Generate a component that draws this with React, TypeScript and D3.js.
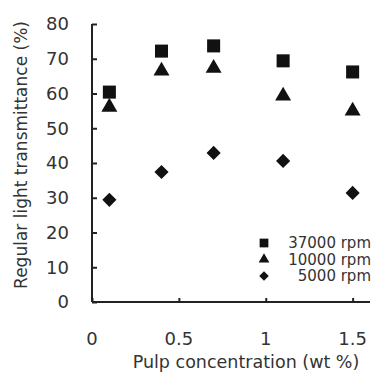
import React, { useEffect, useRef } from 'react';
import * as d3 from 'd3';

const concentrations = [0.1, 0.4, 0.7, 1.1, 1.5];
const rpm37000 = [60.4, 72.2, 73.7, 69.4, 66.2];
const rpm10000 = [56.1, 66.5, 67.3, 59.3, 55.0];
const rpm5000 = [29.4, 37.4, 42.9, 40.6, 31.4];
const seriesNames = ['37000 rpm', '10000 rpm', '5000 rpm'];
const xTicks = [0, 0.5, 1, 1.5];
const yTicks = [0, 10, 20, 30, 40, 50, 60, 70, 80];

const App: React.FC = () => {
  const svgRef = useRef<SVGSVGElement>(null);

  useEffect(() => {
    if (!svgRef.current) return;
    const svg = d3.select(svgRef.current);
    svg.selectAll('*').remove();

    const width = 371;
    const height = 373;
    const margin = { top: 24, right: 1, bottom: 71, left: 92 };
    const font = '"DejaVu Sans", Verdana, sans-serif';
    const ink = '#222';

    const x = d3.scaleLinear().domain([0, 1.6]).range([margin.left, width - margin.right]);
    const y = d3.scaleLinear().domain([0, 80]).range([height - margin.bottom, margin.top]);

    // axes
    const yAxis = svg.append('g')
      .attr('transform', `translate(${margin.left},0)`)
      .call(d3.axisRight(y).tickValues(yTicks).tickSize(5).tickFormat(() => ''));
    yAxis.select('.domain').attr('stroke', ink).attr('stroke-width', 2).attr('d', `M0,${y(80)}V${y(0)}`);
    yAxis.selectAll('.tick line').attr('stroke', ink).attr('stroke-width', 2);

    const xAxis = svg.append('g')
      .attr('transform', `translate(0,${y(0)})`)
      .call(d3.axisTop(x).tickValues(xTicks).tickSize(4).tickFormat(() => ''));
    xAxis.select('.domain').attr('stroke', ink).attr('stroke-width', 2).attr('d', `M${x(0)},0H${x(1.6)}`);
    xAxis.selectAll('.tick line').attr('stroke', ink).attr('stroke-width', 2);

    // tick labels
    svg.append('g').selectAll('text')
      .data(yTicks)
      .join('text')
      .attr('x', 69)
      .attr('y', d => y(d))
      .attr('dy', '0.36em')
      .attr('text-anchor', 'end')
      .attr('font-family', font)
      .attr('font-size', 18)
      .attr('fill', '#333')
      .text(d => d);

    svg.append('g').selectAll('text')
      .data(xTicks)
      .join('text')
      .attr('x', d => x(d))
      .attr('y', 339)
      .attr('dy', '0.36em')
      .attr('text-anchor', 'middle')
      .attr('font-family', font)
      .attr('font-size', 18)
      .attr('fill', '#333')
      .text(d => d);

    // axis titles
    svg.append('text')
      .attr('x', 246)
      .attr('y', 362)
      .attr('dy', '0.36em')
      .attr('text-anchor', 'middle')
      .attr('font-family', font)
      .attr('font-size', 17.5)
      .attr('fill', '#333')
      .text('Pulp concentration (wt %)');

    svg.append('text')
      .attr('transform', `translate(21,155) rotate(-90)`)
      .attr('dy', '0.36em')
      .attr('text-anchor', 'middle')
      .attr('font-family', font)
      .attr('font-size', 17)
      .attr('fill', '#333')
      .text('Regular light transmittance (%)');

    // rotated square for the diamond marker
    const squareDiamond = {
      draw(ctx: any, size: number) {
        const r = Math.sqrt(size / 2);
        ctx.moveTo(0, -r);
        ctx.lineTo(r, 0);
        ctx.lineTo(0, r);
        ctx.lineTo(-r, 0);
        ctx.closePath();
      },
    };
    const symbols: any[] = [d3.symbolSquare, d3.symbolTriangle, squareDiamond];
    const sizes = [170, 110, 100];
    const allSeries = [rpm37000, rpm10000, rpm5000];

    allSeries.forEach((vals, si) => {
      const sym = d3.symbol().type(symbols[si]).size(sizes[si]);
      svg.append('g').selectAll('path')
        .data(vals)
        .join('path')
        .attr('transform', (d, i) => `translate(${x(concentrations[i])},${y(d)})`)
        .attr('d', sym() as string)
        .attr('fill', '#111');
    });

    // legend
    const legend = svg.append('g');
    seriesNames.forEach((name, i) => {
      const ly = 243 + i * 16.5;
      legend.append('path')
        .attr('transform', `translate(264,${ly})`)
        .attr('d', d3.symbol().type(symbols[i]).size(sizes[i] * 0.45)() as string)
        .attr('fill', '#111');
      legend.append('text')
        .attr('x', 371)
        .attr('y', ly)
        .attr('dy', '0.36em')
        .attr('text-anchor', 'end')
        .attr('font-family', font)
        .attr('font-size', 15)
        .attr('fill', '#333')
        .text(name);
    });
  }, []);

  return (
    <svg ref={svgRef} width={371} height={373}
      style={{ position: 'absolute', left: 0, top: 0, background: '#fff' }} />
  );
};

export default App;
